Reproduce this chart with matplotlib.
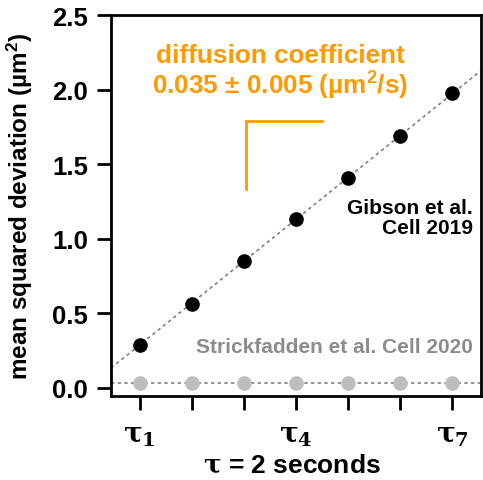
import numpy as np
import matplotlib
matplotlib.use("Agg")
import matplotlib.pyplot as plt

# data
lags = np.arange(1, 8)
msd_gibson = [0.29, 0.565, 0.85, 1.13, 1.41, 1.69, 1.975]
msd_strick = [0.03, 0.03, 0.03, 0.03, 0.03, 0.03, 0.03]
tick_pos = [1, 2, 3, 4, 5, 6, 7]
tick_lbl = [r'$\mathbf{\tau_1}$', '', '', r'$\mathbf{\tau_4}$', '', '', r'$\mathbf{\tau_7}$']
ytick_pos = [0, 0.5, 1.0, 1.5, 2.0, 2.5]
ytick_lbl = ['0.0', '0.5', '1.0', '1.5', '2.0', '2.5']
# slope marker (L shape) corners
slope_x = [3.04, 3.04, 4.5]
slope_y = [1.33, 1.786, 1.786]

orange = '#FF9A00'

plt.rcParams['font.family'] = ['Liberation Sans', 'DejaVu Sans']
plt.rcParams['font.weight'] = 'bold'
plt.rcParams['mathtext.fontset'] = 'custom'
plt.rcParams['mathtext.bf'] = 'DejaVu Serif:bold'
plt.rcParams['mathtext.rm'] = 'DejaVu Serif:bold'
plt.rcParams['mathtext.it'] = 'DejaVu Serif:bold'
plt.rcParams['mathtext.sf'] = 'Liberation Sans:bold'

fig = plt.figure(figsize=(4.83, 4.81), dpi=100)
ax = fig.add_axes([0.2298, 0.1746, 0.7661, 0.7921])

# linear fit through the gibson points
k, b = np.polyfit(lags, msd_gibson, 1)
xl = np.array([0.45, 7.55])
ax.plot(xl, k * xl + b, ls=(0, (2, 2)), color='#808080', lw=1.2, zorder=1)
ax.axhline(np.mean(msd_strick), ls=(0, (2, 2)), color='#808080', lw=1.2, zorder=1)

ax.plot(lags, msd_strick, 'o', color='#BEBEBE', ms=9.5, zorder=2)
ax.plot(lags, msd_gibson, 'o', color='black', ms=9.5, zorder=3)

ax.plot(slope_x, slope_y, color=orange, lw=2, solid_joinstyle='miter')

ax.set_xlim(0.45, 7.55)
ax.set_ylim(-0.055, 2.5)
ax.set_xticks(tick_pos)
ax.set_xticklabels(tick_lbl, fontsize=20)
ax.set_yticks(ytick_pos)
ax.set_yticklabels(ytick_lbl, fontsize=18.5)
ax.tick_params(width=2, length=10, direction='out')
ax.tick_params(axis='x', pad=9)
ax.tick_params(axis='y', pad=6.5)
for s in ax.spines.values():
    s.set_linewidth(2)

ax.set_ylabel(r'mean squared deviation (µm$^{\mathsf{2}}$)', fontsize=17.5, fontweight='bold')
ax.yaxis.set_label_coords(-0.205, 0.5)
ax.set_xlabel(r'$\mathbf{\tau}$ = 2 seconds', fontsize=19, fontweight='bold')
ax.xaxis.set_label_coords(0.489, -0.152)

ax.text(0.457, 0.851, 'diffusion coefficient\n0.035 ± 0.005 (µm$^{\\mathsf{2}}$/s)', transform=ax.transAxes,
        ha='center', va='center', color=orange, fontsize=18.8, fontweight='bold', linespacing=1.05)
ax.text(0.978, 0.468, 'Gibson et al.\nCell 2019', transform=ax.transAxes,
        ha='right', va='center', color='black', fontsize=15, fontweight='bold', linespacing=1.1)
ax.text(0.978, 0.131, 'Strickfadden et al. Cell 2020', transform=ax.transAxes,
        ha='right', va='center', color='#8C8C8C', fontsize=15, fontweight='bold')

fig.savefig('out.png', dpi=100)
